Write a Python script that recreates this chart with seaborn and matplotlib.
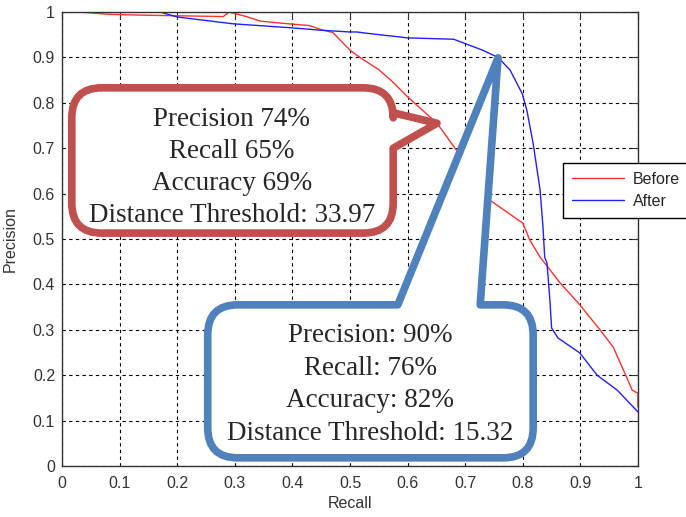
import numpy as np
import pandas as pd
import matplotlib
matplotlib.use("Agg")
import matplotlib.pyplot as plt
from matplotlib.path import Path
from matplotlib.patches import PathPatch
import seaborn as sns

# curve values
before_recall = [0.03, 0.08, 0.14, 0.28, 0.29, 0.32, 0.344, 0.384, 0.43, 0.453, 0.47,
                 0.483, 0.50, 0.517, 0.55, 0.575, 0.60, 0.651, 0.688, 0.74, 0.80, 0.812,
                 0.83, 0.865, 0.899, 0.934, 0.957, 0.98, 0.99, 1.0, 1.0]
before_precision = [1.0, 0.995, 0.993, 0.99, 1.0, 0.99, 0.98, 0.975, 0.97, 0.96, 0.955,
                    0.938, 0.916, 0.90, 0.873, 0.845, 0.813, 0.755, 0.69, 0.588, 0.535, 0.498,
                    0.46, 0.403, 0.355, 0.30, 0.262, 0.196, 0.167, 0.16, 0.13]

after_recall = [0.0, 0.17, 0.2, 0.297, 0.40, 0.448, 0.5, 0.512, 0.53, 0.6, 0.68, 0.73,
                0.757, 0.778, 0.799, 0.807, 0.818, 0.83, 0.835, 0.838, 0.842, 0.847, 0.85,
                0.861, 0.899, 0.929, 0.964, 1.0]
after_precision = [1.0, 1.0, 0.989, 0.974, 0.965, 0.96, 0.956, 0.956, 0.953, 0.943, 0.94,
                   0.916, 0.90, 0.872, 0.82, 0.784, 0.71, 0.608, 0.527, 0.46, 0.447, 0.366,
                   0.304, 0.282, 0.249, 0.20, 0.167, 0.119]

ticks = [0, 0.1, 0.2, 0.3, 0.4, 0.5, 0.6, 0.7, 0.8, 0.9, 1]
tick_labels = ["0", "0.1", "0.2", "0.3", "0.4", "0.5", "0.6", "0.7", "0.8", "0.9", "1"]

before_text = ["Precision 74%", "Recall 65%", "Accuracy 69%", "Distance Threshold: 33.97"]
after_text = ["Precision: 90%", "Recall: 76%", "Accuracy: 82%", "Distance Threshold: 15.32"]
before_tip = (0.651, 0.755)
after_tip = (0.757, 0.899)

df = pd.concat([
    pd.DataFrame({"Recall": before_recall, "Precision": before_precision, "run": "Before"}),
    pd.DataFrame({"Recall": after_recall, "Precision": after_precision, "run": "After"}),
], ignore_index=True)


def callout_path(x0, y0, x1, y1, rx, ry, side, b0, b1, tip):
    # rounded box with the pointer put into its top or right edge
    verts = [(x0 + rx, y1)]
    codes = [Path.MOVETO]
    if side == "top":
        verts += [(b0, y1), tip, (b1, y1)]
        codes += [Path.LINETO] * 3
    verts += [(x1 - rx, y1), (x1, y1), (x1, y1 - ry)]
    codes += [Path.LINETO, Path.CURVE3, Path.CURVE3]
    if side == "right":
        verts += [(x1, b0), tip, (x1, b1)]
        codes += [Path.LINETO] * 3
    verts += [(x1, y0 + ry), (x1, y0), (x1 - rx, y0),
              (x0 + rx, y0), (x0, y0), (x0, y0 + ry),
              (x0, y1 - ry), (x0, y1), (x0 + rx, y1)]
    codes += [Path.LINETO, Path.CURVE3, Path.CURVE3] * 3
    return Path(verts, codes)


sns.set_style("white")
plt.rcParams["font.family"] = ["Liberation Sans", "DejaVu Sans"]

fig = plt.figure(figsize=(6.86, 5.17), dpi=100)
ax = fig.add_axes([62 / 686, 51 / 517, 576 / 686, 454 / 517])

sns.lineplot(data=df, x="Recall", y="Precision", hue="run",
             palette={"Before": "#ff3030", "After": "#2020ff"},
             sort=False, estimator=None, linewidth=1.0, legend=False, ax=ax)

ax.set_xlim(0, 1)
ax.set_ylim(0, 1)
ax.set_xticks(ticks)
ax.set_xticklabels(tick_labels)
ax.set_yticks(ticks)
ax.set_yticklabels(tick_labels)
ax.tick_params(direction="in", length=5, top=True, right=True, labelsize=11.5,
               labelcolor="#333333", color="#333333")
ax.tick_params(axis="x", pad=7)
ax.tick_params(axis="y", pad=5)
ax.grid(True, color="black", linestyle=(0, (3, 3)), linewidth=0.8)
for s in ax.spines.values():
    s.set_color("#333333")
    s.set_linewidth(1.0)
ax.set_xlabel("Recall", fontsize=11.5, color="#333333")
ax.set_ylabel("Precision", fontsize=11.5, color="#333333")
ax.xaxis.set_label_coords(0.5, -0.066)
ax.yaxis.set_label_coords(-0.076, 0.5)

lines = ax.get_lines()
ax.legend(lines[:2], ["Before", "After"], loc="upper left",
          bbox_to_anchor=(563 / 686, 1 - 163 / 517), bbox_transform=fig.transFigure,
          borderaxespad=0, fancybox=False, edgecolor="black", framealpha=1, fontsize=11.5,
          handlelength=3.3, handletextpad=0.5, borderpad=0.55, labelspacing=0.45)

# callouts
rx, ry = 30 / 576, 30 / 454
red_path = callout_path(0.017, 0.513, 0.575, 0.833, rx, ry, "right", 0.778, 0.70, before_tip)
blue_path = callout_path(0.253, 0.018, 0.818, 0.355, rx, ry, "top", 0.583, 0.726, after_tip)
for p, col in [(red_path, "#c0504d"), (blue_path, "#4f81bd")]:
    ax.add_patch(PathPatch(p, facecolor="white", edgecolor=col, linewidth=5.5,
                           joinstyle="round", clip_on=False, zorder=5))

serif = ["Liberation Serif", "DejaVu Serif"]
for i, t in enumerate(before_text):
    ax.text(0.295, 0.763 - i * 0.0707, t, ha="center", va="center", fontsize=19.5,
            family=serif, zorder=6)
for i, t in enumerate(after_text):
    ax.text(0.535, 0.287 - i * 0.0715, t, ha="center", va="center", fontsize=19.5,
            family=serif, zorder=6)

fig.savefig("out.png", dpi=100)
